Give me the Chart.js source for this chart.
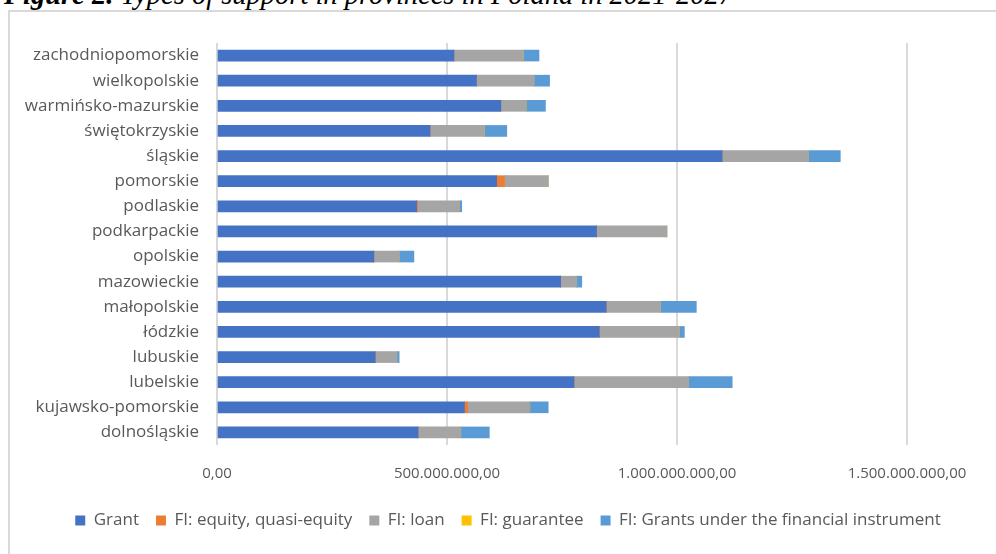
<!DOCTYPE html>
<html>
<head>
<meta charset="utf-8">
<script src="https://cdn.jsdelivr.net/npm/chart.js@4"></script>
<style>
  html, body { margin: 0; padding: 0; background: #fff; }
  body { width: 996px; height: 554px; position: relative; overflow: hidden; }
  #caption {
    position: absolute; left: 4px; top: -19px; white-space: nowrap;
    font-family: "Liberation Serif", "DejaVu Serif", serif; font-style: italic;
    font-size: 28.5px; line-height: 28px; color: #000;
  }
  #frame {
    position: absolute; left: 8px; top: 10px; width: 1100px; height: 700px;
    border: 2px solid #d9d9d9; box-sizing: border-box;
  }
  #wrap { position: absolute; left: 0; top: 0; width: 996px; height: 554px; }
</style>
</head>
<body>
<div id="caption"><b>Figure 2.</b> Types of support in provinces in Poland in 2021-2027</div>
<div id="frame"></div>
<div id="wrap"><canvas id="grafico"></canvas></div>
<script>
// wartości w milionach (od dołu wykresu do góry, jak w Excelu)
const wojewodztwa = ["dolnośląskie", "kujawsko-pomorskie", "lubelskie", "lubuskie", "łódzkie",
  "małopolskie", "mazowieckie", "opolskie", "podkarpackie", "podlaskie", "pomorskie",
  "śląskie", "świętokrzyskie", "warmińsko-mazurskie", "wielkopolskie", "zachodniopomorskie"];
const grant = [437, 538, 776, 344, 831, 846, 747, 341, 825, 434, 608, 1098, 463, 617, 564, 515];
const fiEquity = [0, 7, 0, 0, 0, 0, 0, 0, 0, 2, 17, 0, 0, 0, 0, 0];
const fiLoan = [93, 135, 249, 47, 174, 118, 35, 55, 153, 91, 95, 188, 118, 55, 125, 151];
const fiGuarantee = [0, 0, 0, 0, 0, 0, 0, 0, 0, 0, 0, 0, 0, 0, 0, 0];
const fiGrants = [62, 40, 95, 5, 11, 78, 11, 32, 0, 5, 0, 69, 49, 42, 34, 34];
const xTicks = [0, 500, 1000, 1500];

function formatar(v) {
  const s = Math.round(v * 1e6).toString().replace(/\B(?=(\d{3})+(?!\d))/g, ".");
  return s + ",00";
}

const familia = "'Open Sans', Lato, sans-serif";
const fonteTexto = { family: familia, size: 17 };
const fonteNum = { family: familia, size: 15 };
const cinza = "#595959";

function serie(label, data, cor) {
  return { label: label, data: data, backgroundColor: cor, borderWidth: 0, barThickness: 11 };
}

const ctx = document.getElementById("grafico").getContext("2d");
new Chart(ctx, {
  type: "bar",
  data: {
    labels: wojewodztwa,
    datasets: [
      serie("Grant", grant, "#4472C4"),
      serie("FI: equity, quasi-equity", fiEquity, "#ED7D31"),
      serie("FI: loan", fiLoan, "#A5A5A5"),
      serie("FI: guarantee", fiGuarantee, "#FFC000"),
      serie("FI: Grants under the financial instrument", fiGrants, "#5B9BD5")
    ]
  },
  options: {
    indexAxis: "y",
    responsive: true,
    maintainAspectRatio: false,
    animation: false,
    layout: { padding: { left: 20, right: 0, top: 43, bottom: 15 } },
    plugins: {
      tooltip: { enabled: false },
      legend: {
        position: "bottom",
        labels: { boxWidth: 10, boxHeight: 10, padding: 17, color: cinza, font: fonteTexto }
      }
    },
    scales: {
      x: {
        stacked: true,
        min: 0,
        max: 1500,
        afterBuildTicks: (scale) => { scale.ticks = xTicks.map(v => ({ value: v })); },
        afterFit: (scale) => { scale.height = 50; },
        grid: { color: "#d9d9d9", lineWidth: 2, drawTicks: false },
        border: { display: false },
        ticks: { color: cinza, font: fonteNum, padding: 20, maxRotation: 0, callback: (v) => formatar(v) }
      },
      y: {
        stacked: true,
        reverse: true,
        afterFit: (scale) => { scale.width = 197; },
        grid: { display: false, drawTicks: false },
        border: { display: false },
        ticks: { color: cinza, font: fonteTexto, padding: 18, autoSkip: false }
      },
      // pusty margines po prawej stronie obszaru wykresu
      prawa: {
        type: "linear",
        position: "right",
        afterFit: (scale) => { scale.width = 89; },
        grid: { display: false, drawTicks: false },
        border: { display: false },
        ticks: { display: false }
      }
    }
  }
});
</script>
</body>
</html>
